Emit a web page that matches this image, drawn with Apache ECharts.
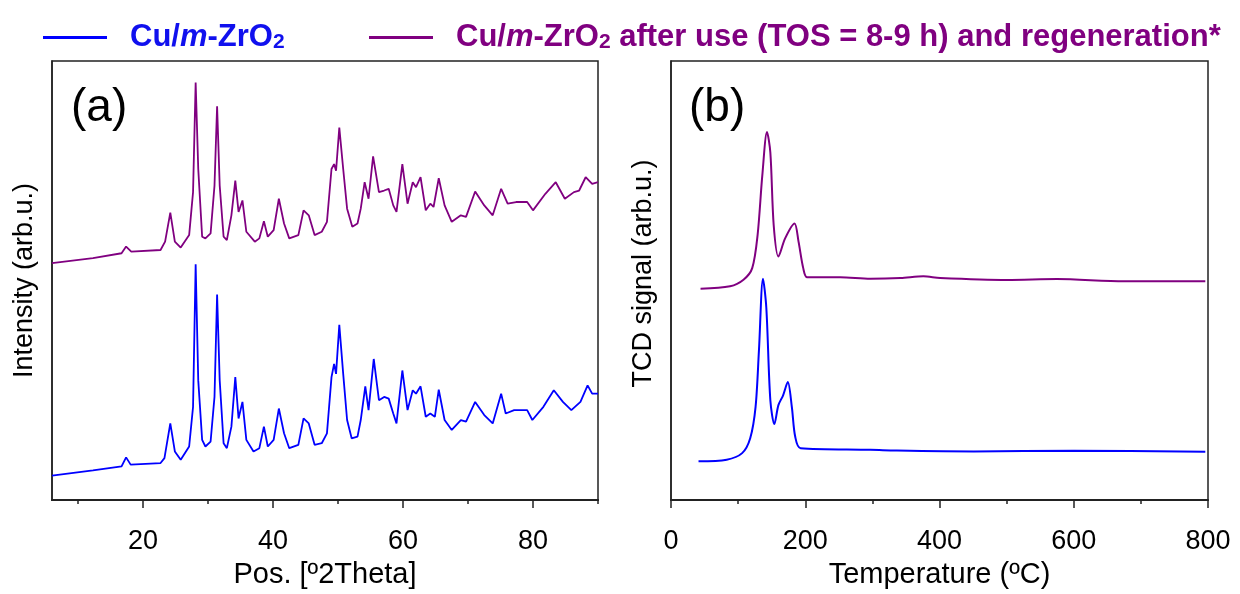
<!DOCTYPE html>
<html><head><meta charset="utf-8">
<script src="https://cdn.jsdelivr.net/npm/echarts@6/dist/echarts.min.js"></script>
<style>html,body{margin:0;padding:0;background:#fff}#c{width:1240px;height:594px}</style>
</head><body><div id="c"></div>
<script>
const FRESH = 'Cu/m-ZrO2';
const USED = 'Cu/m-ZrO2 after use (TOS = 8-9 h) and regeneration*';

// (a) XRD, fresh catalyst (blue)
const xrdFreshTheta = [6.0,12.3,16.7,17.4,18.1,22.7,23.3,24.2,24.9,25.8,27.1,27.7,28.1,28.5,29.1,29.6,30.4,31.0,31.4,31.8,32.4,32.9,33.6,34.2,34.7,35.3,35.9,37.0,37.9,38.6,39.2,40.1,40.9,41.7,42.5,43.9,44.7,45.5,46.4,47.5,48.3,49.0,49.4,49.7,50.2,50.8,51.4,52.1,53.0,53.5,54.2,54.7,55.5,56.3,57.1,57.8,58.5,59.0,59.9,60.7,61.5,62.0,62.7,63.5,64.2,64.9,65.5,66.4,67.5,68.9,69.7,71.1,72.5,73.8,75.1,75.8,77.1,79.1,79.9,81.6,83.2,84.6,85.9,87.3,88.4,89.1,90.0];
const xrdFreshInt = [24.7,30,34,43,35.7,37.3,42.3,77.3,49,40.7,54,94,238,120.7,60.7,54,59,104,207.3,120.7,57.3,52.3,74,124,82.3,99,60.7,49,52.3,74,54,60.7,92.3,67.3,52.3,55.7,82.3,77.3,55.7,57.3,67.3,124,137.3,127.3,176.7,127.3,80.7,62.3,64,80.7,114.7,90.7,142.3,100.7,104,102.3,87.3,77.3,130.7,90.7,110.7,107.3,114.7,84,87.3,84,111.3,80.7,70.7,80.7,79,99,85.7,77.3,107.3,87.3,90.7,90.7,80.7,94,110.7,99,90.7,99,115.7,107.3,107.3];

// (a) XRD, after use and regeneration (purple)
const xrdUsedTheta = [6.0,12.3,16.7,17.4,18.2,22.7,23.4,24.2,24.9,25.8,27.1,27.7,28.1,28.5,29.1,29.6,30.4,31.0,31.4,31.8,32.4,32.9,33.6,34.2,34.7,35.3,35.9,37.2,37.9,38.6,39.2,40.1,40.9,41.7,42.5,43.9,44.7,45.5,46.4,47.5,48.3,49.0,49.4,49.7,50.2,50.8,51.4,52.2,53.0,53.5,54.1,54.7,55.4,56.3,57.1,57.8,58.5,59.0,59.9,60.7,61.5,62.0,62.7,63.5,64.2,64.7,65.5,66.4,67.5,68.9,69.7,71.1,72.5,73.8,75.1,76.1,77.4,79.1,80.0,81.9,83.5,84.9,86.3,87.1,88.1,89.1,90.0];
const xrdUsedInt = [239,244,249,255.7,250.7,252.3,260.7,290,260.7,254.7,267.3,310.7,421.3,334,265.7,264,269,317.3,397.3,317.3,265.7,262.3,287.3,322.3,290.7,302.3,270.7,260.7,264,281.3,265.7,272.3,304,279,264,267.3,292.3,287.3,267.3,270.7,280.7,334,339,332.3,375.7,334,294,275.7,279,294,320.7,304,346.7,310.7,312.3,314,297.3,290.7,339,299,320.7,315.7,325.7,292.3,299,295.7,324.7,297.3,280.7,287.3,285.7,311.3,297.3,287.3,314,299,300.7,300.7,292.3,309,320.7,304,310.7,312.3,325.7,319,320.7];

// (b) TCD, fresh (blue)
const tcdFreshTemp = [41,83,106,118,126,131,137,142,148,154,160,167,174,180,185,193,297,327,451,600,796];
const tcdFreshSig  = [39,40.7,47.3,62.3,94,150.7,223.3,194,100.7,76.7,95.7,105.7,119,94,64,52.3,50.7,50,49,49.7,48.7];

// (b) TCD, after use (purple)
const tcdUsedTemp = [44,88,108,121,129,136,143,148,153,160,170,184,190,197,203,252,297,342,376,401,501,575,675,796];
const tcdUsedSig  = [213.3,215.7,222.3,234,267.3,327.3,371.3,350.7,277.3,245.7,264,279,260.7,234,224.7,224.7,223.3,224,225.7,224,222,223,220.7,220.7];

const xrdMajorTicks = [20,40,60,80];
const xrdMinorTicks = [10,30,50,70,90];

const BLUE = '#0000ff', PURPLE = '#800080';
const FONT = 'Liberation Sans, Arial, sans-serif';
const zip = (a,b) => a.map((v,i) => [v,b[i]]);

const richFor = (c) => ({
  g:{width:18,fontSize:31,lineHeight:31,verticalAlign:'top'},
  n:{fontSize:31,fontWeight:'bold',color:c,fontFamily:FONT,lineHeight:31,verticalAlign:'top'},
  i:{fontSize:31,fontWeight:'bold',fontStyle:'italic',color:c,fontFamily:FONT,lineHeight:31,verticalAlign:'top'},
  s:{fontSize:21,fontWeight:'bold',color:c,fontFamily:FONT,lineHeight:21,verticalAlign:'bottom',padding:[17,0,0,0]}
});

const chart = echarts.init(document.getElementById('c'), null, {renderer:'canvas'});
const axisCommon = {
  axisLine:{show:true,lineStyle:{color:'#222',width:2}},
  splitLine:{show:false}
};
chart.setOption({
  animation:false,
  backgroundColor:'#fff',
  title:[
    {text:'(a)',left:66,top:80,textStyle:{fontSize:46,fontWeight:'normal',color:'#000',fontFamily:FONT}},
    {text:'(b)',left:684,top:80,textStyle:{fontSize:46,fontWeight:'normal',color:'#000',fontFamily:FONT}}
  ],
  legend:[
    {data:[FRESH],left:38,top:10,itemWidth:64,itemHeight:3,icon:'rect',
     formatter:()=> '{g| }{n|Cu/}{i|m}{n|-ZrO}{s|2}',
     textStyle:{rich:richFor('#1010ee')}, selectedMode:false},
    {data:[USED],left:364,top:10,itemWidth:64,itemHeight:3,icon:'rect',
     formatter:()=> '{g| }{n|Cu/}{i|m}{n|-ZrO}{s|2}{n| after use (TOS = 8-9 h) and regeneration*}',
     textStyle:{rich:richFor(PURPLE)}, selectedMode:false}
  ],
  grid:[
    {left:52,top:61,width:546,height:443,show:true,borderColor:'#222',borderWidth:1.5},
    {left:671,top:61,width:537,height:443,show:true,borderColor:'#222',borderWidth:1.5}
  ],
  xAxis:[
    Object.assign({}, axisCommon, {type:'value',gridIndex:0,min:6,max:90,
      name:'Pos. [º2Theta]',nameLocation:'middle',nameGap:60,
      nameTextStyle:{fontSize:29,color:'#000',fontFamily:FONT},
      axisTick:{show:true,inside:false,length:8,lineStyle:{color:'#222',width:1.5},customValues:xrdMajorTicks},
      axisLabel:{show:true,fontSize:27,color:'#000',fontFamily:FONT,margin:28,customValues:xrdMajorTicks}}),
    Object.assign({}, axisCommon, {type:'value',gridIndex:0,min:6,max:90,position:'bottom',
      axisTick:{show:true,inside:false,length:4,lineStyle:{color:'#222',width:1.5},customValues:xrdMinorTicks},
      axisLabel:{show:false,customValues:xrdMinorTicks}}),
    Object.assign({}, axisCommon, {type:'value',gridIndex:1,min:0,max:800,interval:200,
      name:'Temperature (ºC)',nameLocation:'middle',nameGap:60,
      nameTextStyle:{fontSize:29,color:'#000',fontFamily:FONT},
      axisTick:{show:true,inside:false,length:8,lineStyle:{color:'#222',width:1.5}},
      minorTick:{show:true,splitNumber:2,length:4,lineStyle:{color:'#222',width:1.5}},
      axisLabel:{show:true,fontSize:27,color:'#000',fontFamily:FONT,margin:28}})
  ],
  yAxis:[
    {type:'value',gridIndex:0,min:0,max:443,name:'Intensity (arb.u.)',nameLocation:'middle',nameGap:14,
     nameTextStyle:{fontSize:27,color:'#000',fontFamily:FONT},
     axisLine:{show:true,lineStyle:{color:'#222',width:1.5}},axisTick:{show:false},axisLabel:{show:false},splitLine:{show:false}},
    {type:'value',gridIndex:1,min:0,max:443,name:'TCD signal (arb.u.)',nameLocation:'middle',nameGap:14,
     nameTextStyle:{fontSize:27,color:'#000',fontFamily:FONT,padding:[0,0,0,14]},
     axisLine:{show:true,lineStyle:{color:'#222',width:1.5}},axisTick:{show:false},axisLabel:{show:false},splitLine:{show:false}}
  ],
  series:[
    {name:FRESH,type:'line',xAxisIndex:0,yAxisIndex:0,data:zip(xrdFreshTheta,xrdFreshInt),showSymbol:false,lineStyle:{color:BLUE,width:1.8},itemStyle:{color:BLUE}},
    {name:USED,type:'line',xAxisIndex:0,yAxisIndex:0,data:zip(xrdUsedTheta,xrdUsedInt),showSymbol:false,lineStyle:{color:PURPLE,width:1.8},itemStyle:{color:PURPLE}},
    {name:FRESH,type:'line',xAxisIndex:2,yAxisIndex:1,data:zip(tcdFreshTemp,tcdFreshSig),showSymbol:false,smooth:0.3,lineStyle:{color:BLUE,width:2},itemStyle:{color:BLUE}},
    {name:USED,type:'line',xAxisIndex:2,yAxisIndex:1,data:zip(tcdUsedTemp,tcdUsedSig),showSymbol:false,smooth:0.3,lineStyle:{color:PURPLE,width:2},itemStyle:{color:PURPLE}}
  ]
});
</script></body></html>
